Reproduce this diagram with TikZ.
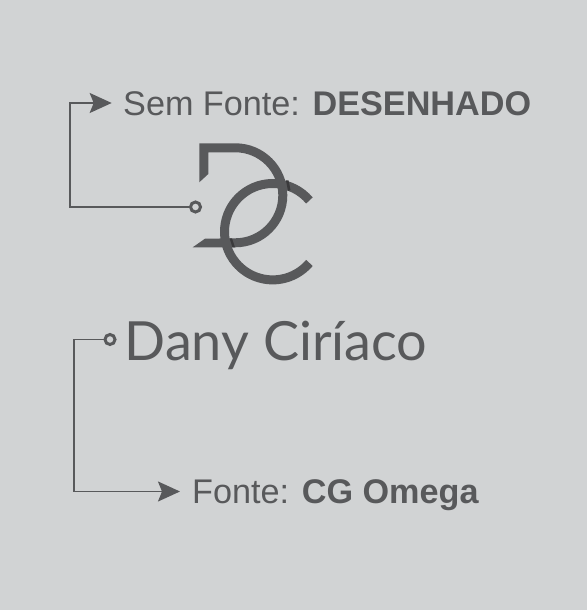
\documentclass[tikz,border=0pt]{standalone}
\usepackage{fontspec}
\setmainfont{Liberation Sans}
\newfontfamily\logofont{Lato}
\usetikzlibrary{arrows.meta,positioning}
\definecolor{paper}{HTML}{D1D3D4}
\definecolor{ink}{HTML}{58595B}
\definecolor{inkdark}{HTML}{3A3A3C}

\begin{document}
\begin{tikzpicture}[
  x=1pt, y=1pt,
  every node/.style={font=\fontsize{34.2}{38}\selectfont, text=ink},
  label/.style={anchor=west, inner ysep=0pt, inner xsep=0pt, text height=24.5pt, text depth=0pt},
  ring/.style={circle, draw=ink, line width=3pt, minimum size=10pt, inner sep=0pt},
  link/.style={draw=ink, line width=1.7pt},
  arrow/.style={link, -{Stealth[length=22pt, width=20pt, inset=4pt]}},
  ]

% Background
\fill[paper] (0,0) rectangle (587,610);
\useasboundingbox (0,0) rectangle (587,610);

% Logo mark
\fill[ink] (199.3,466.7) -- (235.3,466.7) arc[start angle=90, end angle=-90, radius=52pt]
  -- (192.7,362.7) -- (205,371.3) -- (235.3,371.7) arc[start angle=-90, end angle=90, radius=43pt]
  -- (208.3,457.7) -- (208.3,436) -- (199.3,427.7) -- cycle;
\draw[ink, line width=9pt] (272.7,378.3) ++(40.4:48.2pt)
  arc[start angle=40.4, end angle=319.6, radius=48.2pt];
\fill[inkdark] (286,429.5) -- (288.5,429.5) -- (290.5,420) -- (288,419) -- cycle;
\fill[inkdark] (229.7,371.5) -- (232,371.5) -- (235,362.5) -- (232.5,362.5) -- cycle;

% Nodes
\node[ring] (ringmark) at (195.5,403) {};
\node[ring] (ringname) at (110,270.5) {};
\node[label] (semfonte) at (123,507) {Sem Fonte: \textbf{DESENHADO}};
\node[label] (fonte) at (192,118.5) {Fonte: \textbf{CG Omega}};
\node[anchor=base west, inner sep=0pt, font=\logofont\fontsize{54}{60}\selectfont] (danyname) at (124.5,249.5) {Dany Ciríaco};
\coordinate (tipmark) at (111.7,507);
\coordinate (tipname) at (180,118.5);
\coordinate (bendmark) at (70,403);
\coordinate (bendname) at (74,270.5);
\coordinate (footname) at (74,118.5);

% Arrows
\draw[arrow] (ringmark) -- (bendmark) |- (tipmark);
\draw[arrow] (ringname) -- (bendname) -- (footname) -- (tipname);

\end{tikzpicture}
\end{document}
